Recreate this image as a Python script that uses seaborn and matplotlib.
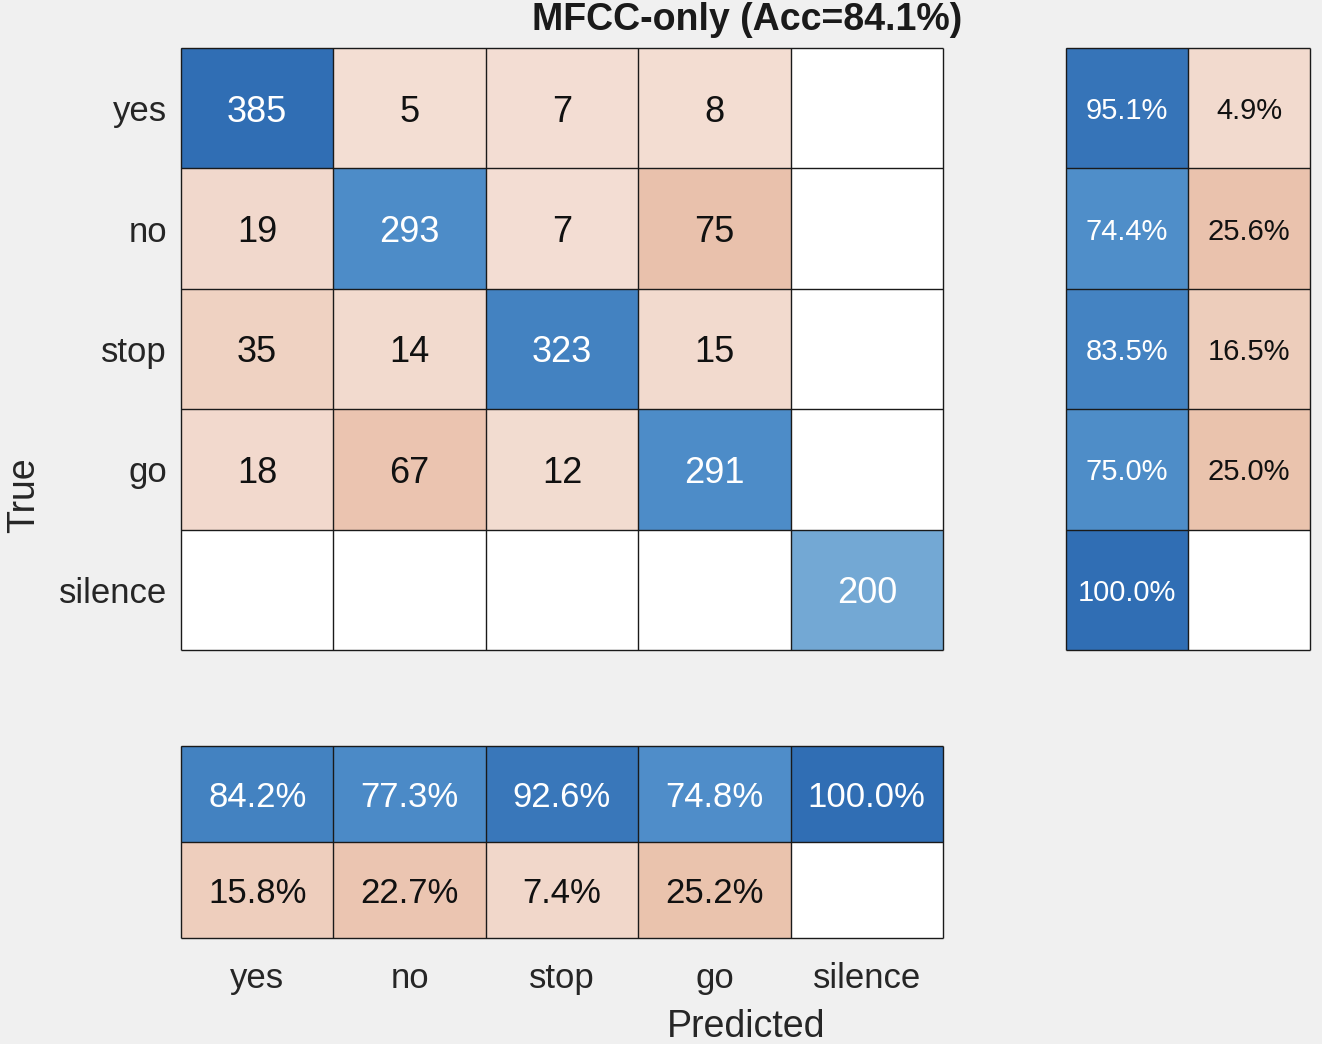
import numpy as np
import matplotlib
matplotlib.use("Agg")
import matplotlib.pyplot as plt
import seaborn as sns
from matplotlib.colors import LinearSegmentedColormap

classes = ["yes", "no", "stop", "go", "silence"]
counts = np.array([[385, 5, 7, 8, 0],
                   [19, 293, 7, 75, 0],
                   [35, 14, 323, 15, 0],
                   [18, 67, 12, 291, 0],
                   [0, 0, 0, 0, 200]])
row_correct = [95.1, 74.4, 83.5, 75.0, 100.0]
row_wrong = [4.9, 25.6, 16.5, 25.0, 0.0]
col_correct = [84.2, 77.3, 92.6, 74.8, 100.0]
col_wrong = [15.8, 22.7, 7.4, 25.2, 0.0]
title = "MFCC-only (Acc=84.1%)"

sns.set_style("white")
plt.rcParams["font.family"] = ["Liberation Sans", "DejaVu Sans"]

blues = LinearSegmentedColormap.from_list("diag", [
    (0.0, (0.93, 0.96, 0.99)),
    (0.52, (114/255, 168/255, 212/255)),
    (0.76, (77/255, 140/255, 200/255)),
    (1.0, (48/255, 110/255, 180/255))])
reds = LinearSegmentedColormap.from_list("off", [
    (0.0, (244/255, 224/255, 214/255)),
    (0.2, (233/255, 192/255, 170/255)),
    (1.0, (200/255, 80/255, 30/255))])

W, H = 1322, 1044
fig = plt.figure(figsize=(W/100, H/100), dpi=100, facecolor="#f0f0f0")


def rect(x0, y0, x1, y1):
    return [x0/W, 1 - y1/H, (x1 - x0)/W, (y1 - y0)/H]


ax = fig.add_axes(rect(181, 48, 943, 650))
ax_r = fig.add_axes(rect(1066, 48, 1310, 650))
ax_b = fig.add_axes(rect(181, 746, 943, 938))


def draw(a, vals, diag_mask, vmax, labels, fs, ratio=None):
    vals = np.asarray(vals, dtype=float)
    zero = vals == 0
    a.set_facecolor("white")
    sns.heatmap(vals, ax=a, mask=~diag_mask | zero, cmap=blues, vmin=0, vmax=vmax,
                cbar=False, annot=labels, fmt="",
                annot_kws={"color": "white", "fontsize": fs, "va": "center_baseline"})
    sns.heatmap(vals, ax=a, mask=diag_mask | zero, cmap=reds, vmin=0,
                vmax=vmax if ratio is None else ratio, cbar=False, annot=labels, fmt="",
                annot_kws={"color": "#111111", "fontsize": fs, "va": "center_baseline"})
    nr, nc = vals.shape
    a.hlines(np.arange(nr + 1), 0, nc, color="#1a1a1a", lw=1, clip_on=False)
    a.vlines(np.arange(nc + 1), 0, nr, color="#1a1a1a", lw=1, clip_on=False)
    a.set_xlim(0, nc)
    a.set_ylim(nr, 0)
    a.set_xticks([])
    a.set_yticks([])
    for s in a.spines.values():
        s.set_visible(False)


n = len(classes)
eye = np.eye(n, dtype=bool)
cm_labels = np.array([[str(v) if v else "" for v in r] for r in counts])
draw(ax, counts, eye, counts.max(), cm_labels, 26)

rv = np.column_stack([row_correct, row_wrong])
rmask = np.zeros_like(rv, dtype=bool)
rmask[:, 0] = True
rlab = np.array([[f"{v:.1f}%" if v else "" for v in r] for r in rv])
draw(ax_r, rv, rmask, 100, rlab, 21, ratio=100 * counts.max() / 285)

bv = np.vstack([col_correct, col_wrong])
bmask = np.zeros_like(bv, dtype=bool)
bmask[0, :] = True
blab = np.array([[f"{v:.1f}%" if v else "" for v in r] for r in bv])
draw(ax_b, bv, bmask, 100, blab, 25, ratio=100 * counts.max() / 285)

ax.set_yticks(np.arange(n) + 0.5)
ax.set_yticklabels(classes, fontsize=25, color="#262626", rotation=0,
                   va="center_baseline")
ax.tick_params(axis="y", length=0, pad=10)
ax_b.set_xticks(np.arange(n) + 0.5)
ax_b.set_xticklabels(classes, fontsize=25, color="#262626", rotation=0)
ax_b.tick_params(axis="x", length=0, pad=17)

fig.text(747/W, 1 - 20/H, title, ha="center", va="center", fontsize=27,
         fontweight="bold", color="#1a1a1a")
fig.text(24/W, 1 - 495/H, "True", ha="center", va="center", rotation=90,
         fontsize=27, color="#262626")
fig.text(746/W, 1 - 1027/H, "Predicted", ha="center", va="center",
         fontsize=27, color="#262626")

fig.savefig("out.png", dpi=100, facecolor=fig.get_facecolor())
